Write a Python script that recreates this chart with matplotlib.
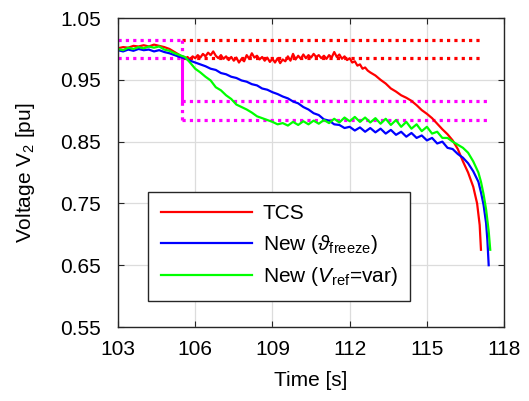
import numpy as np
import matplotlib
matplotlib.use("Agg")
import matplotlib.pyplot as plt

plt.rcParams['font.family'] = ['Liberation Sans', 'DejaVu Sans']
plt.rcParams['mathtext.fontset'] = 'custom'
plt.rcParams['mathtext.rm'] = 'Liberation Sans'
plt.rcParams['mathtext.it'] = 'Liberation Sans:italic'

# TCS
t_tcs = [103.0, 103.2, 103.4, 103.6, 103.8, 104.0, 104.2, 104.4, 104.6, 104.8,
         105.0, 105.2, 105.4, 105.5, 105.6, 105.7, 105.8, 105.9, 106.0, 106.1,
         106.2, 106.3, 106.4, 106.5, 106.6, 106.7, 106.8, 106.9, 107.0, 107.1,
         107.2, 107.3, 107.4, 107.5, 107.6, 107.7, 107.8, 107.9, 108.0, 108.1,
         108.2, 108.3, 108.4, 108.5, 108.6, 108.7, 108.8, 108.9, 109.0, 109.1,
         109.2, 109.3, 109.4, 109.5, 109.6, 109.7, 109.8, 109.9, 110.0, 110.1,
         110.2, 110.3, 110.4, 110.5, 110.6, 110.7, 110.8, 110.9, 111.0, 111.1,
         111.2, 111.3, 111.4, 111.5, 111.6, 111.7, 111.8, 111.9, 112.0, 112.1,
         112.2, 112.3, 112.4, 112.5, 112.6, 112.7, 112.8, 113.0, 113.2, 113.4,
         113.6, 113.8, 114.0, 114.2, 114.4, 114.6, 114.8, 115.0, 115.2, 115.4,
         115.6, 115.8, 116.0, 116.2, 116.4, 116.6, 116.8, 116.95, 117.05, 117.1]
v_tcs = [1.001, 1.003, 1.002, 1.005, 1.004, 1.006, 1.004, 1.007, 1.005, 1.003,
         1.000, 0.995, 0.990, 0.986, 0.984, 0.987, 0.983, 0.988, 0.985, 0.990,
         0.986, 0.992, 0.988, 0.994, 0.990, 0.996, 0.989, 0.985, 0.990, 0.984,
         0.988, 0.982, 0.987, 0.981, 0.986, 0.978, 0.984, 0.980, 0.990, 0.984,
         0.993, 0.986, 0.989, 0.983, 0.987, 0.981, 0.986, 0.979, 0.984, 0.978,
         0.985, 0.977, 0.983, 0.980, 0.988, 0.981, 0.992, 0.983, 0.989, 0.984,
         0.991, 0.985, 0.990, 0.986, 0.992, 0.987, 0.990, 0.985, 0.989, 0.984,
         0.990, 0.986, 0.995, 0.987, 0.991, 0.984, 0.988, 0.982, 0.985, 0.978,
         0.980, 0.973, 0.975, 0.968, 0.970, 0.965, 0.962, 0.957, 0.950, 0.944,
         0.936, 0.931, 0.925, 0.921, 0.916, 0.909, 0.901, 0.895, 0.888, 0.879,
         0.870, 0.862, 0.852, 0.838, 0.818, 0.800, 0.777, 0.750, 0.715, 0.675]

# New (theta_freeze)
t_new = [103.0, 103.2, 103.4, 103.6, 103.8, 104.0, 104.2, 104.4, 104.6, 104.8,
         105.0, 105.2, 105.4, 105.6, 105.8, 106.0, 106.2, 106.4, 106.6, 106.8,
         107.0, 107.2, 107.4, 107.6, 107.8, 108.0, 108.2, 108.4, 108.6, 108.8,
         109.0, 109.2, 109.4, 109.6, 109.8, 110.0, 110.2, 110.4, 110.6, 110.8,
         111.0, 111.2, 111.4, 111.6, 111.8, 112.0, 112.2, 112.4, 112.6, 112.8,
         113.0, 113.2, 113.4, 113.6, 113.8, 114.0, 114.2, 114.4, 114.6, 114.8,
         115.0, 115.2, 115.4, 115.6, 115.8, 116.0, 116.2, 116.4, 116.6, 116.8,
         117.0, 117.1, 117.2, 117.3, 117.35, 117.4]
v_new = [0.998, 0.996, 0.999, 0.997, 1.000, 0.998, 0.999, 0.996, 0.998, 0.995,
         0.993, 0.990, 0.987, 0.985, 0.981, 0.978, 0.975, 0.972, 0.968, 0.966,
         0.961, 0.959, 0.955, 0.953, 0.949, 0.947, 0.943, 0.941, 0.936, 0.934,
         0.930, 0.927, 0.923, 0.920, 0.915, 0.912, 0.906, 0.902, 0.896, 0.893,
         0.886, 0.884, 0.878, 0.877, 0.872, 0.874, 0.868, 0.873, 0.866, 0.872,
         0.865, 0.871, 0.863, 0.869, 0.861, 0.866, 0.858, 0.864, 0.856, 0.860,
         0.852, 0.856, 0.847, 0.850, 0.840, 0.838, 0.830, 0.824, 0.815, 0.802,
         0.785, 0.768, 0.748, 0.718, 0.690, 0.650]

# New (Vref = var)
t_var = [103.0, 103.2, 103.4, 103.6, 103.8, 104.0, 104.2, 104.4, 104.6, 104.8,
         105.0, 105.2, 105.4, 105.6, 105.8, 106.0, 106.2, 106.4, 106.6, 106.8,
         107.0, 107.2, 107.4, 107.6, 107.8, 108.0, 108.2, 108.4, 108.6, 108.8,
         109.0, 109.2, 109.4, 109.6, 109.8, 110.0, 110.2, 110.4, 110.6, 110.8,
         111.0, 111.2, 111.4, 111.6, 111.8, 112.0, 112.2, 112.4, 112.6, 112.8,
         113.0, 113.2, 113.4, 113.6, 113.8, 114.0, 114.2, 114.4, 114.6, 114.8,
         115.0, 115.2, 115.4, 115.6, 115.8, 116.0, 116.2, 116.4, 116.6, 116.8,
         117.0, 117.1, 117.2, 117.3, 117.4, 117.46]
v_var = [1.000, 0.998, 1.002, 1.000, 1.003, 1.001, 1.004, 1.002, 1.004, 0.999,
         0.997, 0.993, 0.990, 0.987, 0.978, 0.968, 0.962, 0.955, 0.949, 0.938,
         0.933, 0.925, 0.919, 0.910, 0.906, 0.902, 0.897, 0.891, 0.888, 0.885,
         0.882, 0.878, 0.880, 0.876, 0.882, 0.877, 0.883, 0.878, 0.884, 0.879,
         0.885, 0.880, 0.887, 0.881, 0.889, 0.883, 0.890, 0.882, 0.889, 0.881,
         0.888, 0.879, 0.887, 0.877, 0.885, 0.874, 0.882, 0.871, 0.878, 0.867,
         0.874, 0.863, 0.866, 0.856, 0.856, 0.850, 0.845, 0.840, 0.832, 0.818,
         0.800, 0.785, 0.765, 0.740, 0.705, 0.675]

# threshold bands
t_start = 103.0
t_trig = 105.5
t_end_upper = 117.1
t_end_lower = 117.4
band_upper = [0.985, 1.015]
band_lower = [0.885, 0.915]

fig = plt.figure(figsize=(5.29, 4.01), dpi=100)
ax = fig.add_axes([0.223, 0.1845, 0.730, 0.7705])

dot = dict(lw=2.3, dashes=(1.0, 1.3), dash_capstyle='butt')
for lev in band_upper:
    ax.plot([t_start, t_trig], [lev, lev], color='#ff00ff', **dot)
    ax.plot([t_trig, t_end_upper], [lev, lev], color='#ff0000', **dot)
for lev in band_lower:
    ax.plot([t_trig, t_end_lower], [lev, lev], color='#ff00ff', **dot)
ax.plot([t_trig, t_trig], band_upper, color='#ff00ff', **dot)
ax.plot([t_trig, t_trig], band_lower, color='#ff00ff', **dot)
ax.plot([t_trig, t_trig], [band_upper[0], band_lower[1]], color='#ff00ff', lw=2.2)

ax.plot(t_tcs, v_tcs, color='#ff0000', lw=1.6, label='TCS')
ax.plot(t_new, v_new, color='#0000ff', lw=1.6, label=r'New ($\vartheta_\mathregular{freeze}$)')
ax.plot(t_var, v_var, color='#00ff00', lw=1.6, label=r'New ($V_\mathregular{ref}$=var)')

ax.set_xlim(103, 118)
ax.set_ylim(0.55, 1.05)
ax.set_xticks([103, 106, 109, 112, 115, 118])
ax.set_yticks([0.55, 0.65, 0.75, 0.85, 0.95, 1.05])
ax.set_yticklabels(['0.55', '0.65', '0.75', '0.85', '0.95', '1.05'])
ax.tick_params(direction='in', top=True, right=True, labelsize=15, length=4,
               width=0.8, color='#262626')
ax.tick_params(axis='y', pad=12)
ax.tick_params(axis='x', pad=9)
ax.grid(True, color='#dcdcdc', lw=0.9)
ax.set_axisbelow(True)
for s in ax.spines.values():
    s.set_color('#262626')
    s.set_linewidth(1.0)

ax.set_xlabel('Time [s]', fontsize=15, labelpad=9)
ax.set_ylabel(r'Voltage V$_\mathregular{2}$ [pu]', fontsize=15, labelpad=17)

leg = ax.legend(loc='upper left', bbox_to_anchor=(0.078, 0.437), borderaxespad=0,
                fontsize=15, handlelength=4.4, handletextpad=0.5,
                labelspacing=0.45, fancybox=False, framealpha=1, borderpad=0.6)
leg.get_frame().set_edgecolor('#262626')
leg.get_frame().set_linewidth(1.0)

fig.savefig('out.png', dpi=100)
